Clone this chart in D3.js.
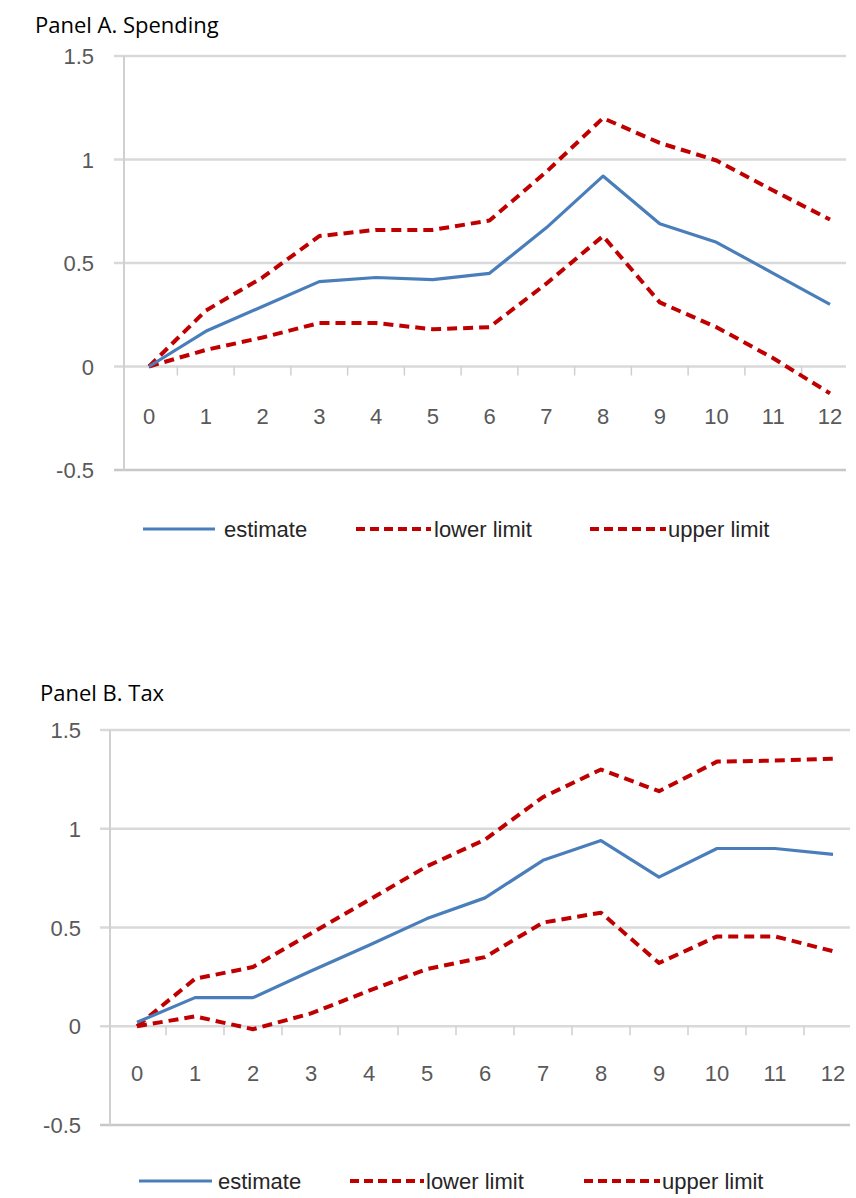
<!DOCTYPE html>
<html><head><meta charset="utf-8">
<script src="https://cdn.jsdelivr.net/npm/d3@7/dist/d3.min.js"></script>
<style>
html,body{margin:0;padding:0;background:#fff;overflow:hidden;}
svg{display:block;}
.tick-lbl{font-family:"Liberation Sans Narrow","Liberation Sans",sans-serif;fill:#595959;}
.title{font-family:"Open Sans","Noto Sans",sans-serif;fill:#000;}
</style></head>
<body>
<svg id="chart" width="856" height="1198"></svg>
<script>
// ---- data ----
const periods = [0,1,2,3,4,5,6,7,8,9,10,11,12];
const yTicks = [-0.5, 0, 0.5, 1, 1.5];
const seriesNames = ["estimate", "lower limit", "upper limit"];
const panelTitles = ["Panel A. Spending", "Panel B. Tax"];

const spendEstimate = [0, 0.17, 0.29, 0.41, 0.43, 0.42, 0.45, 0.67, 0.92, 0.69, 0.60, 0.45, 0.30];
const spendLower    = [0, 0.08, 0.14, 0.21, 0.21, 0.18, 0.19, 0.40, 0.63, 0.31, 0.19, 0.04, -0.13];
const spendUpper    = [0, 0.27, 0.43, 0.63, 0.66, 0.66, 0.705, 0.94, 1.20, 1.08, 0.995, 0.85, 0.71];

const taxEstimate = [0.02, 0.145, 0.145, 0.28, 0.41, 0.545, 0.65, 0.84, 0.94, 0.755, 0.90, 0.90, 0.87];
const taxLower    = [0, 0.05, -0.015, 0.065, 0.18, 0.29, 0.35, 0.525, 0.575, 0.32, 0.455, 0.455, 0.38];
const taxUpper    = [0, 0.24, 0.30, 0.47, 0.64, 0.81, 0.945, 1.16, 1.30, 1.19, 1.34, 1.345, 1.355];

// ---- layout ----
const panels = [
  { title: panelTitles[0], titleX: 35, titleY: 33,
    axisX: 124, gridX0: 114, gridX1: 846, x0: 149, x12: 830,
    yTop: 56, yBottom: 470, labelRight: 94, xLabelY: 424, legendY: 529,
    legend: [[143,215,224],[356,431,434],[590,666,668]],
    data: [spendEstimate, spendLower, spendUpper] },
  { title: panelTitles[1], titleX: 40, titleY: 701,
    axisX: 110, gridX0: 100, gridX1: 850, x0: 137, x12: 833,
    yTop: 730, yBottom: 1125, labelRight: 81, xLabelY: 1081, legendY: 1181,
    legend: [[139,212,218],[350,424,426],[584,660,662]],
    data: [taxEstimate, taxLower, taxUpper] }
];

const styles = [
  { color: "#4A7EBB", width: 3.2, dash: null },
  { color: "#C00000", width: 4, dash: "10,6" },
  { color: "#C00000", width: 4, dash: "10,6" }
];

const svg = d3.select("#chart");

panels.forEach(p => {
  const g = svg.append("g");
  const x = d3.scaleLinear().domain([periods[0], periods[periods.length-1]]).range([p.x0, p.x12]);
  const y = d3.scaleLinear().domain([-0.5, 1.5]).range([p.yBottom, p.yTop]);

  // title
  g.append("text").attr("class","title").attr("x", p.titleX).attr("y", p.titleY)
    .attr("font-size", 22).text(p.title);

  // gridlines
  g.selectAll(".grid").data(yTicks).enter().append("line")
    .attr("x1", p.gridX0).attr("x2", p.gridX1)
    .attr("y1", d => y(d)).attr("y2", d => y(d))
    .attr("stroke", d => d === -0.5 ? "#c8c8c8" : "#d9d9d9").attr("stroke-width", 2.5);

  // y axis line
  g.append("line").attr("x1", p.axisX).attr("x2", p.axisX)
    .attr("y1", y(1.5)).attr("y2", y(-0.5)).attr("stroke", "#d0d0d0").attr("stroke-width", 2);

  // y labels
  g.selectAll(".ylab").data(yTicks).enter().append("text").attr("class","tick-lbl")
    .attr("x", p.labelRight).attr("y", d => y(d) + 8).attr("text-anchor","end")
    .attr("font-size", 22).text(d => String(d));

  // x ticks at category boundaries on zero line
  const bounds = periods.slice(0, -1).map(d => d + 0.5);
  g.selectAll(".xt").data(bounds).enter().append("line")
    .attr("x1", d => x(d)).attr("x2", d => x(d))
    .attr("y1", y(0)).attr("y2", y(0) + 9)
    .attr("stroke", "#cfcfcf").attr("stroke-width", 1.5);

  // x labels
  g.selectAll(".xlab").data(periods).enter().append("text").attr("class","tick-lbl")
    .attr("x", d => x(d)).attr("y", p.xLabelY).attr("text-anchor","middle")
    .attr("font-size", 22).text(d => d);

  // lines
  const line = d3.line().x((d,i) => x(periods[i])).y(d => y(d));
  [1,2,0].forEach(k => {
    g.append("path").datum(p.data[k]).attr("d", line)
      .attr("fill","none").attr("stroke", styles[k].color)
      .attr("stroke-width", styles[k].width)
      .attr("stroke-dasharray", styles[k].dash)
      .attr("stroke-linejoin","round");
  });

  // legend
  p.legend.forEach((L, k) => {
    g.append("line").attr("x1", L[0]).attr("x2", L[1])
      .attr("y1", p.legendY).attr("y2", p.legendY)
      .attr("stroke", styles[k].color).attr("stroke-width", styles[k].width)
      .attr("stroke-dasharray", styles[k].dash ? "9,5" : null);
    g.append("text").attr("class","tick-lbl").attr("x", L[2]).attr("y", p.legendY + 8)
      .attr("font-size", 22).style("fill","#262626").text(seriesNames[k]);
  });
});
</script>
</body></html>
